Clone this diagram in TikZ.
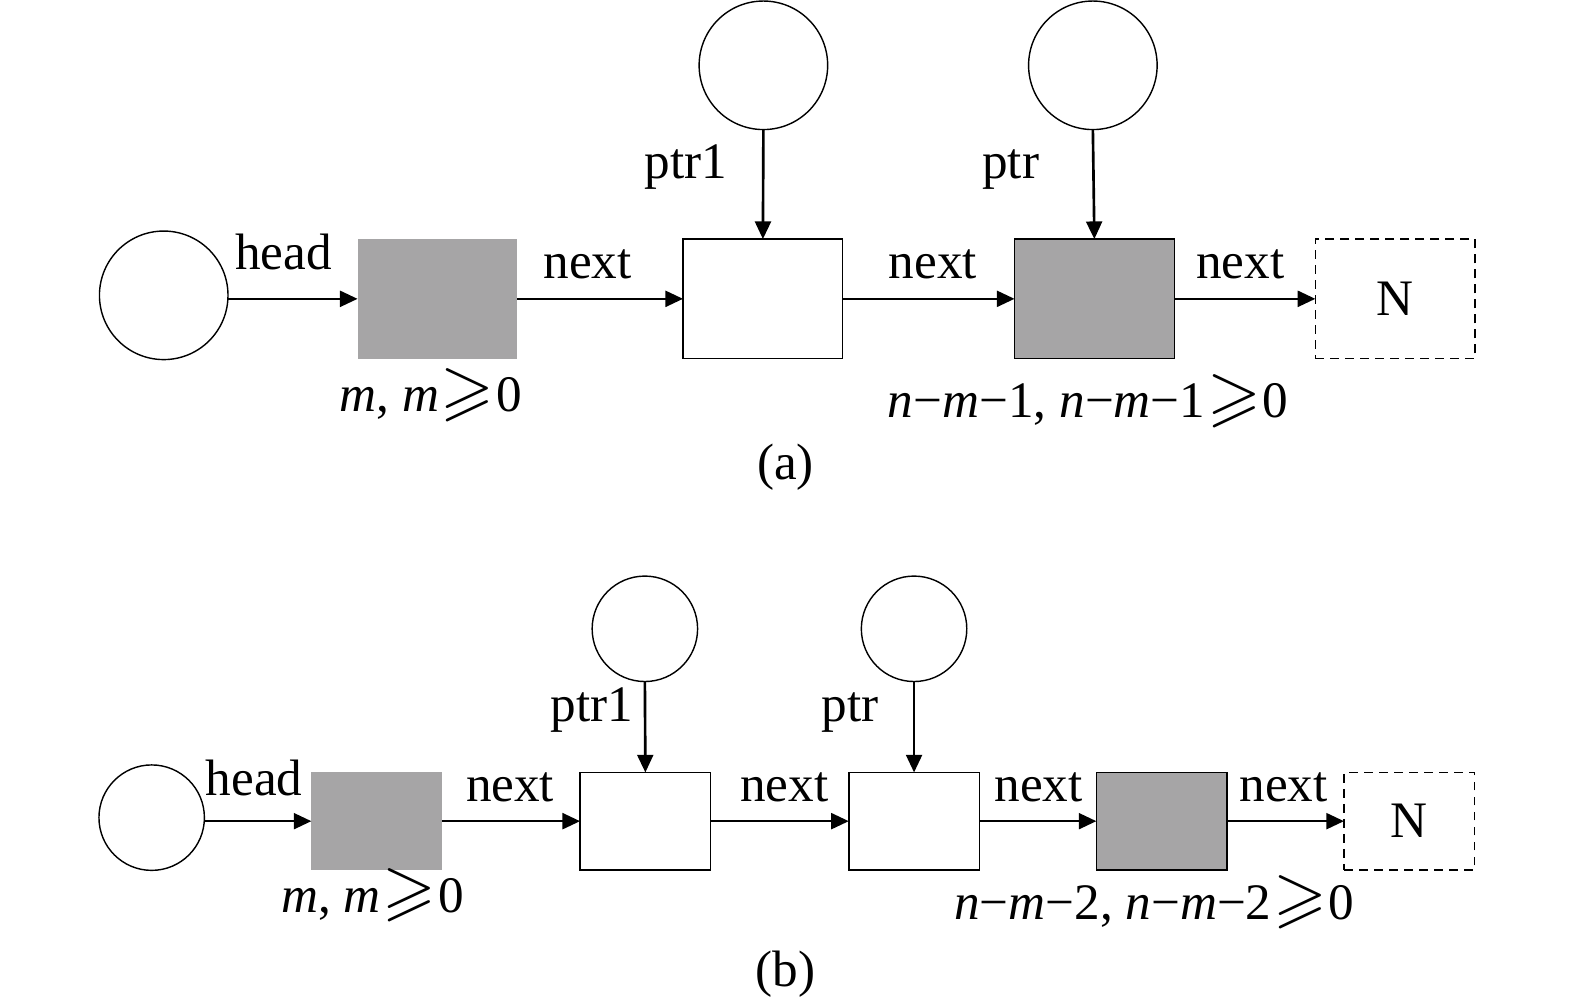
\documentclass[tikz,border=0pt]{standalone}
\usepackage{amssymb}
\usepackage{graphicx}
\usepackage{fontspec}
\setmainfont{Liberation Serif}
\usetikzlibrary{arrows.meta}
\definecolor{boxgray}{RGB}{166,165,166}
\newcommand{\gq}{\hspace{1pt}\raisebox{-0.5pt}{\scalebox{1.35}{$\geqslant$}}\hspace{1pt}}
\begin{document}
\begin{tikzpicture}[x=0.02cm,y=-0.02cm,
  every node/.style={font=\fontsize{29}{34}\selectfont, inner sep=0pt, outer sep=0pt},
  arr/.style={line width=1.5pt,-{Triangle[length=10pt,width=9pt]}},
  bigbox/.style={rectangle, minimum width=3.18cm, minimum height=2.38cm},
  smallbox/.style={rectangle, minimum width=2.6cm, minimum height=1.94cm},
  plain/.style={draw=black, line width=0.8pt, fill=white},
  shaded/.style={fill=boxgray},
  shadedb/.style={draw=black, line width=0.8pt, fill=boxgray},
  nullbox/.style={draw=black, line width=0.8pt, dash pattern=on 5pt off 3.5pt},
  bigcirc/.style={circle, draw=black, line width=0.8pt, minimum size=2.56cm},
  smallcirc/.style={circle, draw=black, line width=0.8pt, minimum size=2.1cm},
  lbl/.style={anchor=base west}
]
\useasboundingbox (0,0) rectangle (1568,1002);
% ---------- panel (a)
\node[bigcirc] (ah) at (163,294) {};
\node[bigbox,shaded] (a1) at (435.5,297.5) {};
\node[bigbox,plain] (a2) at (759.5,297.5) {};
\node[bigbox,shadedb] (a3) at (1089.5,297.5) {};
\node[bigbox,nullbox] (aN) at (1389,297.5) {N};
\node[bigcirc] (ap1) at (760,65) {};
\node[bigcirc] (ap) at (1088,65) {};
\draw[arr] (ah.east |- a1.west) -- (a1.west);
\draw[arr] (a1.east) -- (a2.west);
\draw[arr] (a2.east) -- (a3.west);
\draw[arr] (a3.east) -- (aN.west);
\draw[arr] (ap1.south) -- (a2.north);
\draw[arr] (ap.south) -- (a3.north);
\node[lbl] (lah) at (234,268) {head};
\node[lbl] (lan1) at (541,277) {next};
\node[lbl] (lan2) at (885,277) {next};
\node[lbl] (lan3) at (1191,277) {next};
\node[lbl] (lap1) at (642,178) {ptr1};
\node[lbl] (lap) at (978,178) {ptr};
\node[lbl] (lam) at (338,410) {\textit{m}, \textit{m}\gq0};
\node[lbl] (lan) at (884,416) {\textit{n}−\textit{m}−1, \textit{n}−\textit{m}−1\gq0};
\node (capa) at (782,465) {(a)};
% ---------- panel (b)
\node[smallcirc] (bh) at (151,814) {};
\node[smallbox,shaded] (b1) at (375,817.5) {};
\node[smallbox,plain] (b2) at (642.5,817.5) {};
\node[smallbox,plain] (b3) at (910,817.5) {};
\node[smallbox,shadedb] (b4) at (1156.5,817.5) {};
\node[smallbox,nullbox] (bN) at (1403,817.5) {N};
\node[smallcirc] (bp1) at (642,626) {};
\node[smallcirc] (bp) at (910,626) {};
\draw[arr] (bh.east |- b1.west) -- (b1.west);
\draw[arr] (b1.east) -- (b2.west);
\draw[arr] (b2.east) -- (b3.west);
\draw[arr] (b3.east) -- (b4.west);
\draw[arr] (b4.east) -- (bN.west);
\draw[arr] (bp1.south) -- (b2.north);
\draw[arr] (bp.south) -- (b3.north);
\node[lbl] (lbh) at (205,792) {head};
\node[lbl] (lbn1) at (464,798) {next};
\node[lbl] (lbn2) at (737,798) {next};
\node[lbl] (lbn3) at (990,798) {next};
\node[lbl] (lbn4) at (1234,798) {next};
\node[lbl] (lbp1) at (548,718) {ptr1};
\node[lbl] (lbp) at (818,718) {ptr};
\node[lbl] (lbm) at (280,908) {\textit{m}, \textit{m}\gq0};
\node[lbl] (lbn) at (950,915) {\textit{n}−\textit{m}−2, \textit{n}−\textit{m}−2\gq0};
\node (capb) at (782,970) {(b)};
\end{tikzpicture}
\end{document}
